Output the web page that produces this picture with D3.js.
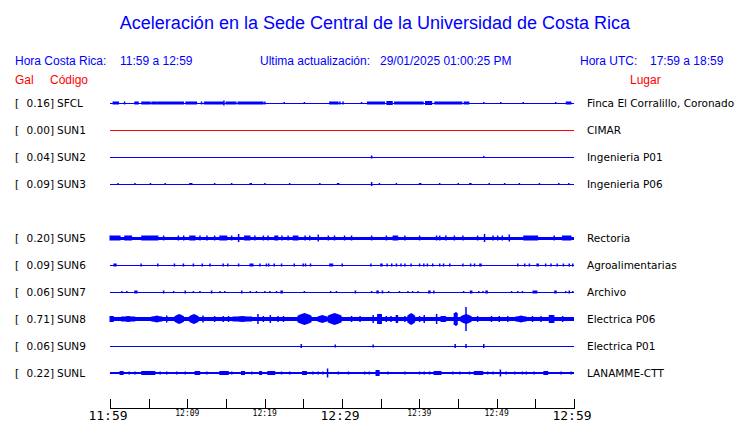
<!DOCTYPE html>
<html><head><meta charset="utf-8">
<script src="https://cdn.jsdelivr.net/npm/d3@7"></script>
<style>
html,body{margin:0;padding:0;background:#fff;}
svg{display:block;}
</style></head>
<body>
<svg id="c" width="740" height="423"></svg>
<script>
// ---------- DATA ----------
const title = "Aceleración en la Sede Central de la Universidad de Costa Rica";
const codes  = ["SFCL","SUN1","SUN2","SUN3","SUN4","SUN5","SUN6","SUN7","SUN8","SUN9","SUNL"];
const gal    = [0.16, 0.00, 0.04, 0.09, null, 0.20, 0.09, 0.06, 0.71, 0.06, 0.22];
const places = ["Finca El Corralillo, Coronado","CIMAR","Ingenieria P01","Ingenieria P06",null,
                "Rectoria","Agroalimentarias","Archivo","Electrica P06","Electrica P01","LANAMME-CTT"];
const traceColors = ["#0000ff","#ff0000","#0000ff","#0000ff",null,"#0000ff","#0000ff","#0000ff","#0000ff","#0000ff","#0000ff"];
// background noise half-amplitude per station (relative units)
const baseAmp = [0.5, 0.5, 0.5, 0.5, null, 1.5, 0.5, 0.5, 2, 0.5, 0.7];
// minutes after 11:59
const tickMinutes = d3.range(0, 61, 5);
const tickLabels  = {0:"11:59",10:"12:09",20:"12:19",30:"12:29",40:"12:39",50:"12:49",60:"12:59"};
const bigLabels   = [0, 30, 60];

// events per station: [startMin, endMin, halfAmplitude]
const evSFCL = [[0.4,1.1,1.5],[1.85,1.85,1.5],[3.2,3.65,1.5],[4.1,5.2,1.5],[5.4,6.0,1.5],[6.15,6.7,1.5],[6.8,9.5,1.5],
  [9.8,11.2,1.5],[11.8,11.8,1.5],[12.2,14.6,1.5],[14.7,14.7,2.5],[15.0,16.3,1.5],[16.55,19.8,1.5],[20.0,20.0,1.5],
  [22.5,22.5,1],[25.1,25.1,1],[28.4,29.5,1.5],[29.7,29.7,1.5],[30.1,30.1,1.5],[32.5,32.5,1],[33.3,35.5,1.5],[35.8,36.5,2],
  [36.8,40.5,1.5],[40.8,41.6,2],[42,45.5,1.5],[45.8,46.4,1.5],[48.3,48.3,1],[50.5,50.5,1],[53.4,53.4,1],
  [57.6,57.6,1],[59.0,59.6,1.5]];
const evSUN1 = [];
const evSUN2 = [[33.8,33.8,1.5],[48.3,48.3,1]];
const evSUN3 = [[1.0,1.0,1],[3.2,3.2,1],[5.2,5.2,1],[7.1,7.1,1],[10.3,10.6,1],[13.5,13.5,1],[15.7,15.7,1],[18.1,18.3,1],
  [20.0,20.0,1],[23.2,23.2,1],[27.1,27.1,1],[29.4,29.6,1],[33.8,33.8,2],[34.8,34.8,1],[37.0,37.0,1],[40.0,40.2,1],
  [42.6,42.6,1],[45.0,45.0,1],[46.5,46.7,1],[49.0,49.0,1],[51.0,51.0,1],[52.9,52.9,1],[55.5,55.5,1],[58.0,58.0,1],[59.3,59.3,1]];
const evSUN5 = [[0,1.3,2.5],[1.9,2.8,2.5],[4.1,6.2,2.5],[6.9,6.9,2.5],[8.8,8.8,2.5],[9.5,9.5,2.5],[10.3,11.0,2.5],
  [11.6,11.6,2.5],[12.5,12.5,2.5],[13.5,13.5,2.5],[14.2,15.1,2.5],[15.7,15.7,2.5],[16.6,16.6,4],[17.4,18.1,2.5],
  [18.7,18.7,2.5],[19.8,19.8,2.5],[20.4,20.4,2.5],[21.3,21.7,2.5],[22.2,22.2,2.5],[23.0,23.0,2.5],[23.7,24.3,2.5],
  [25.2,25.2,2.5],[25.8,25.8,2.5],[26.9,26.9,3.5],[28.2,28.2,2.5],[29.0,29.0,2.5],[30.3,30.3,2.5],[31.2,31.2,2.5],
  [33.8,33.8,2.5],[35.7,35.7,2.5],[36.6,37.2,2.5],[38.1,38.1,2.5],[40.0,40.0,2.5],[42.2,42.2,2.5],[42.6,42.6,2.5],
  [43.4,43.4,2.5],[44.5,44.5,2.5],[45.6,45.6,2.5],[47.5,47.5,2.5],[48.4,48.4,4],[49.5,49.5,2.5],[50.1,50.1,2.5],
  [50.7,50.7,2.5],[51.6,51.6,3.5],[53.5,55.3,2.5],[57.4,57.4,2.5],[58.5,59.6,2.5]];
const evSUN6 = [[0.5,0.8,1.5],[4.0,4.0,1.5],[6.15,6.15,1.5],[8.3,8.3,1.5],[9.46,9.46,1.5],[10.75,10.75,1.5],[11.9,11.9,1.5],
  [12.9,12.9,1.5],[14.6,14.6,1.5],[15.2,15.2,1.5],[16.6,16.6,1.5],[18.1,18.5,1.5],[19.35,19.35,1.5],[20.2,20.2,1.5],
  [20.5,20.5,1.5],[21.2,21.2,1.5],[22.15,22.15,1.5],[23.8,23.8,1.5],[24.95,24.95,1.5],[25.25,25.25,1.5],[25.9,25.9,1.5],
  [28.4,28.8,1.5],[30.0,30.0,1.5],[33.7,33.7,1.5],[35.0,35.2,1.5],[35.8,35.8,1.5],[36.4,36.4,1.5],[37.0,37.0,1.5],
  [37.6,37.6,1.5],[38.1,38.1,1.5],[38.9,38.9,1.5],[40.0,40.0,1.5],[40.55,40.55,1.5],[41.0,41.0,1.5],[41.7,41.7,1.5],
  [42.6,42.6,1.5],[43.1,43.1,1.5],[43.9,43.9,1.5],[45.6,45.6,1.5],[46.6,46.6,1.5],[47.1,47.1,1.5],[47.8,48.0,1.5],
  [52.7,52.7,1.5],[53.6,53.6,1.5],[54.2,54.2,1.5],[55.2,55.4,1.5],[56.3,56.3,1.5],[57.0,57.0,1.5],[57.8,57.8,1.5],
  [58.6,58.6,1.5],[59.35,59.35,1.5],[59.8,59.8,1.5]];
const evSUN7 = [[1.5,1.5,1],[2.15,2.15,1],[3.2,3.5,1.5],[6.9,6.9,1.5],[8.2,8.2,1],[9.7,9.7,1.5],[10.75,10.75,1],[11.6,11.6,1],
  [13.1,13.1,1.5],[14.2,14.2,1],[14.8,14.8,1],[17.0,17.0,1.5],[18.1,18.1,1],[18.9,18.9,1],[20.0,20.0,1],[20.65,20.65,1],
  [21.5,21.5,1],[22.1,22.3,1.5],[25.1,25.1,1],[28.5,28.5,1],[29.25,29.25,1],[31.7,31.7,1.5],[33.8,33.8,1],[34.5,34.7,1.5],
  [35.2,35.2,1.5],[36.0,36.0,1],[37.4,37.4,1],[38.5,38.5,1],[39.1,39.1,1],[39.8,39.8,1],[41.2,41.4,1.5],[41.85,41.85,1.5],
  [45.7,45.7,1],[46.6,46.8,1.5],[47.65,47.65,1],[48.2,48.2,1],[48.6,48.8,1.5],[51.9,51.9,1],[52.7,52.7,1],[53.3,53.3,1],
  [54.7,55.2,1.5],[57.5,57.7,1.5],[58.9,58.9,1],[59.35,59.35,1.5],[59.8,59.8,1]];
const evSUN8 = [[0,0.43,3],[1.5,3.2,3],[5.4,6.7,3.5],[7.3,7.3,3.5],[8.4,9.5,5],[10.3,11.4,5],[12.0,12.0,3.5],[13.5,13.5,3],
  [14.6,14.6,3],[15.3,15.3,3],[15.9,18.3,3],[19.1,19.1,5],[19.8,19.8,3],[20.7,20.7,4],[21.7,21.7,3],[22.4,22.4,3],
  [24.3,26.0,6],[26.9,28.0,4],[28.2,29.9,6],[31.2,31.2,3],[32.3,32.3,3],[34.0,34.0,4],[34.6,35.1,5],[35.7,35.7,3],
  [36.3,36.3,3],[37.0,37.2,4],[38.1,38.1,3],[38.5,39.4,6],[40.0,40.0,3],[40.6,40.6,4],[42.2,42.2,5],[42.8,43.4,3],
  [44.5,44.9,6],[44.7,44.7,7],[45.4,46.7,5],[46.0,46.0,12],[47.5,47.5,3],[49.3,49.3,3],[50.3,50.3,3],[51.4,51.4,3],
  [52.5,53.8,3.5],[54.6,54.6,3],[55.7,55.7,3],[56.8,57.4,4],[58.5,58.5,3]];
const evSUN9 = [[24.7,24.7,2],[29.1,29.1,1.5],[34.0,34.0,1.5],[44.6,44.6,2],[46.0,46.0,2],[48.3,48.3,2]];
const evSUNL = [[1.3,1.7,2],[2.45,2.45,1.5],[3.2,3.2,1.5],[4.1,5.8,2],[6.45,6.45,1.5],[7.3,7.3,1.5],[8.6,8.6,1.5],
  [9.7,9.7,1.5],[11.0,11.6,2],[12.5,12.5,1.5],[14.2,15.3,2],[15.7,15.7,1.5],[17.0,17.4,2],[18.3,18.3,1.5],[19.35,19.6,2],
  [20.4,21.3,2],[22.15,22.15,1.5],[23.2,23.2,1.5],[24.9,25.4,2],[26.2,26.2,1.5],[26.9,26.9,1.5],[27.5,27.5,1.5],
  [28.1,28.1,4.5],[29.5,29.5,1.5],[30.8,30.8,1.5],[32.9,32.9,1.5],[33.5,33.5,1.5],[34.4,34.8,3],[35.9,35.9,1.5],
  [38.1,38.1,1.5],[40.0,40.0,1.5],[40.6,40.6,1.5],[41.3,41.3,1.5],[41.9,42.8,2],[44.3,44.3,1.5],[45.2,45.2,1.5],
  [46.45,46.45,1.5],[47.1,48.2,2],[48.8,48.8,1.5],[49.5,49.5,1.5],[50.45,50.45,3.5],[51.2,51.2,1.5],[52.3,52.3,1.5],
  [53.3,53.3,1.5],[53.8,53.8,1.5],[54.8,54.8,1.5],[56.1,56.6,2],[58.3,58.3,1.5],[59.6,59.6,1.5]];
const events = [evSFCL, evSUN1, evSUN2, evSUN3, null, evSUN5, evSUN6, evSUN7, evSUN8, evSUN9, evSUNL];

// ---------- DRAW ----------
const svg = d3.select("#c");
const BLUE = "#0000ff", RED = "#ff0000";
const x = d3.scaleLinear().domain([0, 60]).range([110, 574]);
const y = d3.scalePoint().domain(codes).range([103, 373]);
const amp = d3.scaleLinear().domain([0, 12]).range([0, 12]);

svg.append("text").attr("x", 375).attr("y", 29).attr("text-anchor", "middle")
  .attr("font-family", "Liberation Sans, Arial, sans-serif").attr("font-size", 18).attr("fill", BLUE).text(title);

const hdr = (t, xx, yy, col, anchor) => svg.append("text").attr("x", xx).attr("y", yy)
  .attr("text-anchor", anchor || "start")
  .attr("font-family", "Liberation Sans, Arial, sans-serif").attr("font-size", 12).attr("fill", col).text(t);
hdr("Hora Costa Rica:", 15, 65, BLUE);
hdr("11:59 a 12:59", 120, 65, BLUE);
hdr("Ultima actualización:", 260, 65, BLUE);
hdr("29/01/2025 01:00:25 PM", 380, 65, BLUE);
hdr("Hora UTC:", 580, 65, BLUE);
hdr("17:59 a 18:59", 650, 65, BLUE);
hdr("Gal", 15, 84, RED);
hdr("Código", 50, 84, RED);
hdr("Lugar", 630, 84, RED);

// spindle shape for wide strong bursts, rectangle otherwise
function burstPath(d, cy, b) {
  const x0 = x(d[0]) - 0.5, x1 = x(d[1]) + 0.5, a = amp(d[2]);
  const wide = (d[1] - d[0]) >= 0.8 && d[2] >= 3;
  if (!wide) {
    const w = Math.max(x1 - x0, 1.5);
    return `M${x0},${cy - a}h${w}v${2 * a}h${-w}Z`;
  }
  const q = (x1 - x0) / 4, lo = Math.max(a * 0.55, b + 0.5);
  return `M${x0},${cy - lo}L${x0 + q},${cy - a * 0.8}L${x0 + 2 * q},${cy - a}L${x0 + 3 * q},${cy - a * 0.8}L${x1},${cy - lo}` +
         `L${x1},${cy + lo}L${x0 + 3 * q},${cy + a * 0.8}L${x0 + 2 * q},${cy + a}L${x0 + q},${cy + a * 0.8}L${x0},${cy + lo}Z`;
}

const rows = codes.map((c, i) => ({c, i})).filter(d => gal[d.i] !== null);
const g = svg.append("g");
rows.forEach(({c, i}) => {
  const cy = y(c);
  const col = traceColors[i];
  const lab = svg.append("g").attr("font-family", "DejaVu Sans, sans-serif").attr("font-size", 10.5).attr("fill", "#000");
  lab.append("text").attr("x", 15).attr("y", cy + 4).text("[");
  lab.append("text").attr("x", 54).attr("y", cy + 4).attr("text-anchor", "end").text(gal[i].toFixed(2) + "]");
  lab.append("text").attr("x", 57).attr("y", cy + 4).text(c);
  lab.append("text").attr("x", 587).attr("y", cy + 4).text(places[i]);

  const b = Math.max(amp(baseAmp[i]), 0.5);
  g.append("rect").attr("x", x(0)).attr("width", x(60) - x(0))
    .attr("y", cy - b).attr("height", 2 * b).attr("fill", col).attr("shape-rendering", "crispEdges");
  g.selectAll(null).data(events[i]).join("path")
    .attr("d", d => burstPath(d, cy, b))
    .attr("fill", col);
});

// time axis
const ax = svg.append("g").attr("shape-rendering", "crispEdges");
ax.append("line").attr("x1", x(0)).attr("x2", x(60)).attr("y1", 408.5).attr("y2", 408.5).attr("stroke", "#000");
ax.selectAll(null).data(tickMinutes).join("line")
  .attr("x1", d => Math.round(x(d)) + 0.5).attr("x2", d => Math.round(x(d)) + 0.5)
  .attr("y1", 399).attr("y2", 409).attr("stroke", "#000");
ax.selectAll(null).data(Object.keys(tickLabels).map(Number)).join("text")
  .attr("x", d => x(d) - (bigLabels.includes(d) ? 2 : 0)).attr("y", d => bigLabels.includes(d) ? 420 : 416)
  .attr("text-anchor", "middle")
  .attr("font-family", "DejaVu Sans Mono, monospace")
  .attr("font-size", d => bigLabels.includes(d) ? 13 : 8)
  .attr("fill", "#000").text(d => tickLabels[d]);
</script>
</body></html>
